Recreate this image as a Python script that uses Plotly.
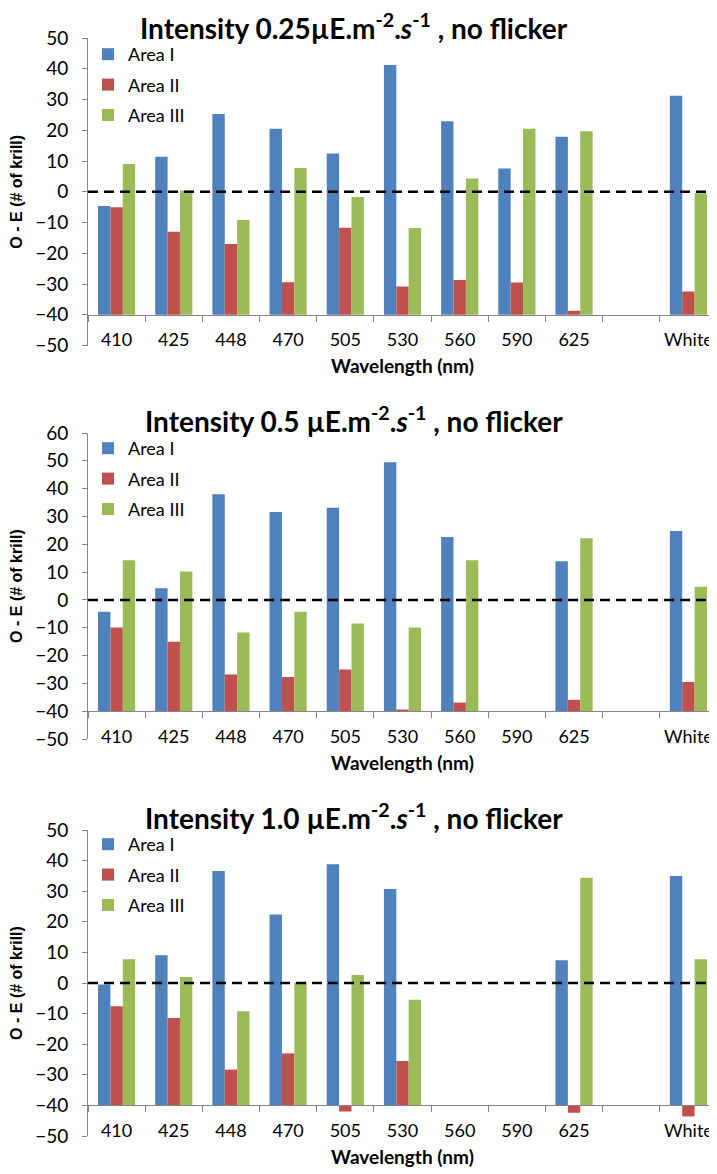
import plotly.graph_objects as go

# ---------------- data ----------------
categories = ["410", "425", "448", "470", "505", "530", "560", "590", "625", " ", "White"]
series_names = ["Area I", "Area II", "Area III"]

titles = [
    "Intensity 0.25µE.m<sup>-2</sup>.<i>s</i><sup>-1</sup> , no flicker",
    "Intensity 0.5 µE.m<sup>-2</sup>.<i>s</i><sup>-1</sup> , no flicker",
    "Intensity 1.0 µE.m<sup>-2</sup>.<i>s</i><sup>-1</sup> , no flicker",
]

# Intensity 0.25
p1_area1 = [-4.6, 11.4, 25.3, 20.5, 12.4, 41.2, 22.9, 7.6, 17.9, None, 31.2]
p1_area2 = [-5.0, -13.0, -17.0, -29.4, -11.7, -30.8, -28.7, -29.5, -38.7, None, -32.4]
p1_area3 = [9.0, 0.4, -9.2, 7.7, -1.7, -11.8, 4.3, 20.5, 19.7, None, -0.5]

# Intensity 0.5
p2_area1 = [-4.3, 4.2, 38.0, 31.6, 33.1, 49.5, 22.6, None, 13.9, None, 24.8]
p2_area2 = [-9.9, -15.0, -26.8, -27.7, -25.0, -39.4, -36.9, None, -35.9, None, -29.5]
p2_area3 = [14.3, 10.2, -11.7, -4.3, -8.5, -9.9, 14.3, None, 22.2, None, 4.7]

# Intensity 1.0
p3_area1 = [-0.5, 9.1, 36.6, 22.4, 38.8, 30.7, None, None, 7.4, None, 35.0]
p3_area2 = [-7.6, -11.4, -28.3, -23.0, -42.0, -25.5, None, None, -42.4, None, -43.6]
p3_area3 = [7.8, 2.0, -9.2, 0.2, 2.6, -5.5, None, None, 34.4, None, 7.8]

y_ranges = [[-50, 50], [-50, 60], [-50, 50]]
AXIS_CROSS = -40  # horizontal axis crosses the value axis here

# ---------------- style ----------------
colors = ["#4F81BD", "#C0504D", "#9BBB59"]
FONT = "Lato"
W, H = 717, 1174
ML, MR = 80, 8
PW = W - ML - MR
# plot-area tops / bottoms in pixels
tops = [30, 425, 822]
bottoms = [337.5, 731, 1128]
title_mid = [18, 411, 808]
legend_top = [28, 422, 818]

panels = [
    [p1_area1, p1_area2, p1_area3],
    [p2_area1, p2_area2, p2_area3],
    [p3_area1, p3_area2, p3_area3],
]

fig = go.Figure()
annotations = []
shapes = []

for i, series in enumerate(panels):
    n = i + 1
    xa = "x" if n == 1 else f"x{n}"
    ya = "y" if n == 1 else f"y{n}"
    lg = "legend" if n == 1 else f"legend{n}"
    for s, vals in enumerate(series):
        fig.add_trace(go.Bar(
            x=categories,
            y=[None if v is None else v - AXIS_CROSS for v in vals],
            base=AXIS_CROSS,
            customdata=vals,
            hovertemplate="%{x}: %{customdata}<extra>" + series_names[s] + "</extra>",
            name=series_names[s],
            marker=dict(color=colors[s], line=dict(width=0)),
            xaxis=xa, yaxis=ya, legend=lg,
            legendgroup=f"g{n}{s}",
        ))

    d0 = 1 - bottoms[i] / H
    d1 = 1 - tops[i] / H
    y0, y1 = y_ranges[i]
    cross_pos = d0 + (d1 - d0) * (AXIS_CROSS - y0) / (y1 - y0)

    xkey = "xaxis" if n == 1 else f"xaxis{n}"
    ykey = "yaxis" if n == 1 else f"yaxis{n}"
    fig.update_layout({
        xkey: dict(
            domain=[0, 1], anchor="free", position=cross_pos,
            type="category", categoryorder="array", categoryarray=categories,
            range=[-0.5, len(categories) - 0.5],
            showline=True, linecolor="#868686", linewidth=1,
            ticks="outside", tickson="boundaries", ticklen=6, tickcolor="#868686",
            ticklabelstandoff=9, tickangle=0,
            tickfont=dict(family=FONT, size=18, color="black"),
            showgrid=False, zeroline=False, fixedrange=True,
            title=dict(text="Wavelength (nm)", standoff=10,
                       font=dict(family=FONT, size=19, color="black", weight="bold")),
            automargin=False,
        ),
        ykey: dict(
            domain=[d0, d1], anchor=xa, range=y_ranges[i], dtick=10,
            showline=True, linecolor="#868686", linewidth=1,
            ticks="outside", ticklen=5, tickcolor="#868686",
            ticklabelstandoff=10,
            tickfont=dict(family=FONT, size=19, color="black"),
            showgrid=False, zeroline=False, fixedrange=True,
            title=dict(text="O - E (# of krill)", standoff=12,
                       font=dict(family="Liberation Sans", size=16, color="black", weight="bold")),
            automargin=False,
        ),
        lg: dict(
            x=(80 - ML) / PW, y=1 - legend_top[i] / H, xref="paper", yref="paper",
            xanchor="left", yanchor="top", bgcolor="rgba(0,0,0,0)",
            font=dict(family=FONT, size=18, color="black"),
            tracegroupgap=4, itemclick=False, itemdoubleclick=False,
        ),
    })

    annotations.append(dict(
        text=titles[i], x=(346 - ML) / PW, y=1 - title_mid[i] / H,
        xref="paper", yref="paper", xanchor="center", yanchor="middle",
        showarrow=False, font=dict(family=FONT, size=28, color="black", weight="bold"),
    ))

    shapes.append(dict(
        type="line", xref=f"{xa} domain", yref=ya, x0=0, x1=1, y0=0, y1=0,
        line=dict(color="black", width=2.5, dash="10px,6px"), layer="above",
    ))

fig.update_layout(
    width=W, height=H,
    margin=dict(l=ML, r=MR, t=0, b=0),
    barmode="group", bargap=0.35, bargroupgap=0,
    plot_bgcolor="white", paper_bgcolor="white",
    annotations=annotations, shapes=shapes,
    showlegend=True,
)

fig.write_html("out.html")
